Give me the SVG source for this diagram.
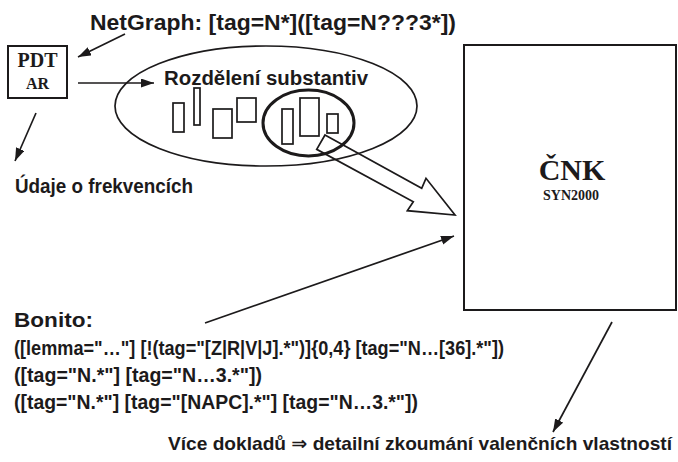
<svg xmlns="http://www.w3.org/2000/svg" width="678" height="462" viewBox="0 0 678 462">
<defs>
<style>
.sans{font-family:"Liberation Sans",Arial,"DejaVu Sans",sans-serif;font-weight:bold;fill:#1c1a1b}
.serif{font-family:"Liberation Serif","Times New Roman",serif;font-weight:bold;fill:#1c1a1b}
.ln{stroke:#1c1a1b;stroke-width:1.7;fill:none}
.box{stroke:#1c1a1b;stroke-width:2;fill:#fff}
.bar{stroke:#1c1a1b;stroke-width:1.7;fill:#fff}
</style>
<marker id="ah" markerUnits="userSpaceOnUse" markerWidth="14" markerHeight="10" refX="13" refY="4.5" orient="auto">
<path d="M0,0 L13,4.5 L0,9 z" fill="#1c1a1b"/>
</marker>
</defs>
<rect width="678" height="462" fill="#fff"/>

<g id="node-ellipse">
<ellipse cx="266" cy="106" rx="151" ry="60" class="ln"/>
<text class="sans" x="164" y="85" font-size="20" textLength="204" lengthAdjust="spacingAndGlyphs">Rozdělení substantiv</text>
<rect class="bar" x="173" y="103" width="11" height="29"/>
<rect class="bar" x="194" y="88" width="6" height="37"/>
<rect class="bar" x="213" y="109" width="19" height="29"/>
<rect class="bar" x="237" y="98" width="19" height="24"/>
<rect class="bar" x="282" y="109" width="11" height="35"/>
<rect class="bar" x="300" y="98" width="19" height="38"/>
<rect class="bar" x="327" y="114" width="11" height="19"/>
<ellipse cx="308.5" cy="123" rx="45.5" ry="33" fill="none" stroke="#1c1a1b" stroke-width="3"/>
</g>

<g id="node-pdt">
<rect class="box" x="8" y="46" width="59" height="52"/>
<text class="serif" x="37.5" y="67" font-size="20" text-anchor="middle">PDT</text>
<text class="serif" x="37.5" y="89" font-size="16" text-anchor="middle">AR</text>
</g>

<g id="node-cnk">
<rect class="box" x="464" y="45" width="212" height="265"/>
<text class="serif" x="572" y="180" font-size="30" text-anchor="middle">ČNK</text>
<text class="serif" x="571" y="200" font-size="14" text-anchor="middle">SYN2000</text>
</g>

<g id="node-netgraph">
<text class="sans" x="90" y="30" font-size="22" textLength="366" lengthAdjust="spacingAndGlyphs">NetGraph: [tag=N*]([tag=N???3*])</text>
</g>

<g id="node-udaje">
<text class="sans" x="15" y="193" font-size="21" textLength="178" lengthAdjust="spacingAndGlyphs">Údaje o frekvencích</text>
</g>

<g id="node-bonito">
<text class="sans" x="14" y="327" font-size="21" textLength="79" lengthAdjust="spacingAndGlyphs">Bonito:</text>
<text class="sans" x="14" y="355" font-size="21" textLength="490" lengthAdjust="spacingAndGlyphs">([lemma="…"] [!(tag="[Z|R|V|J].*")]{0,4} [tag="N…[36].*"])</text>
<text class="sans" x="14" y="382" font-size="21" textLength="248" lengthAdjust="spacingAndGlyphs">([tag="N.*"] [tag="N…3.*"])</text>
<text class="sans" x="14" y="409" font-size="21" textLength="404" lengthAdjust="spacingAndGlyphs">([tag="N.*"] [tag="[NAPC].*"] [tag="N…3.*"])</text>
</g>

<g id="node-vice">
<text class="sans" x="168" y="450" font-size="19" textLength="504" lengthAdjust="spacingAndGlyphs">Více dokladů ⇒ detailní zkoumání valenčních vlastností</text>
</g>

<g id="connectors">
<line class="ln" x1="125" y1="34" x2="78" y2="57" marker-end="url(#ah)"/>
<line class="ln" x1="78" y1="83" x2="154" y2="83" marker-end="url(#ah)"/>
<line class="ln" x1="36" y1="113" x2="15" y2="161" marker-end="url(#ah)"/>
<polygon class="ln" points="325,135 421.7,188.3 426,178.3 455,215 407.3,210.7 413.3,201.7 316.7,149.3" fill="#fff"/>
<line class="ln" x1="205" y1="323" x2="454" y2="236" marker-end="url(#ah)"/>
<line class="ln" x1="612" y1="322" x2="553" y2="432" marker-end="url(#ah)"/>
</g>
</svg>
